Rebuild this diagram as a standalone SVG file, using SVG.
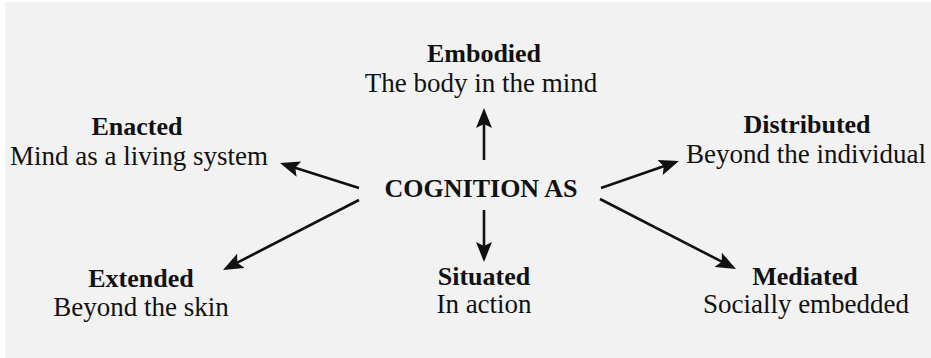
<svg xmlns="http://www.w3.org/2000/svg" width="931" height="358" viewBox="0 0 931 358">
  <style>
    text { font-family: "Liberation Serif", "DejaVu Serif", serif; fill: #111; text-anchor: middle; }
    .t { font-size: 26px; font-weight: bold; }
    .s { font-size: 27px; }
    .c { font-size: 26px; font-weight: bold; }
    .arr { stroke: #111; stroke-width: 2.6; fill: none; marker-end: url(#ah); }
  </style>
  <defs>
    <marker id="ah" viewBox="0 0 20 16" refX="10" refY="8" markerWidth="20" markerHeight="16" markerUnits="userSpaceOnUse" orient="auto">
      <path d="M0,0 L20,8 L0,16 L4,8 Z" fill="#111"/>
    </marker>
  </defs>
  <rect x="0" y="0" width="931" height="358" fill="#ffffff"/>
  <rect x="5" y="2" width="926" height="356" fill="#f2f2f2"/>

  <g id="connectors">
    <line class="arr" x1="484" y1="160" x2="484" y2="118"/>
    <line class="arr" x1="484" y1="210" x2="484" y2="252"/>
    <line class="arr" x1="359" y1="188" x2="289.5" y2="166"/>
    <line class="arr" x1="359" y1="200" x2="231.9" y2="265.4"/>
    <line class="arr" x1="601" y1="188" x2="669.5" y2="164.3"/>
    <line class="arr" x1="600" y1="199" x2="727.1" y2="264.4"/>
  </g>

  <g id="center">
    <text class="c" x="481" y="197">COGNITION AS</text>
  </g>
  <g id="embodied">
    <text class="t" x="484" y="62">Embodied</text>
    <text class="s" x="481" y="92">The body in the mind</text>
  </g>
  <g id="enacted">
    <text class="t" x="137" y="135">Enacted</text>
    <text class="s" x="139" y="165">Mind as a living system</text>
  </g>
  <g id="distributed">
    <text class="t" x="807" y="133">Distributed</text>
    <text class="s" x="806" y="163">Beyond the individual</text>
  </g>
  <g id="extended">
    <text class="t" x="141" y="287">Extended</text>
    <text class="s" x="141" y="316">Beyond the skin</text>
  </g>
  <g id="situated">
    <text class="t" x="484" y="285">Situated</text>
    <text class="s" x="484" y="313">In action</text>
  </g>
  <g id="mediated">
    <text class="t" x="805" y="285">Mediated</text>
    <text class="s" x="806" y="313">Socially embedded</text>
  </g>
</svg>
